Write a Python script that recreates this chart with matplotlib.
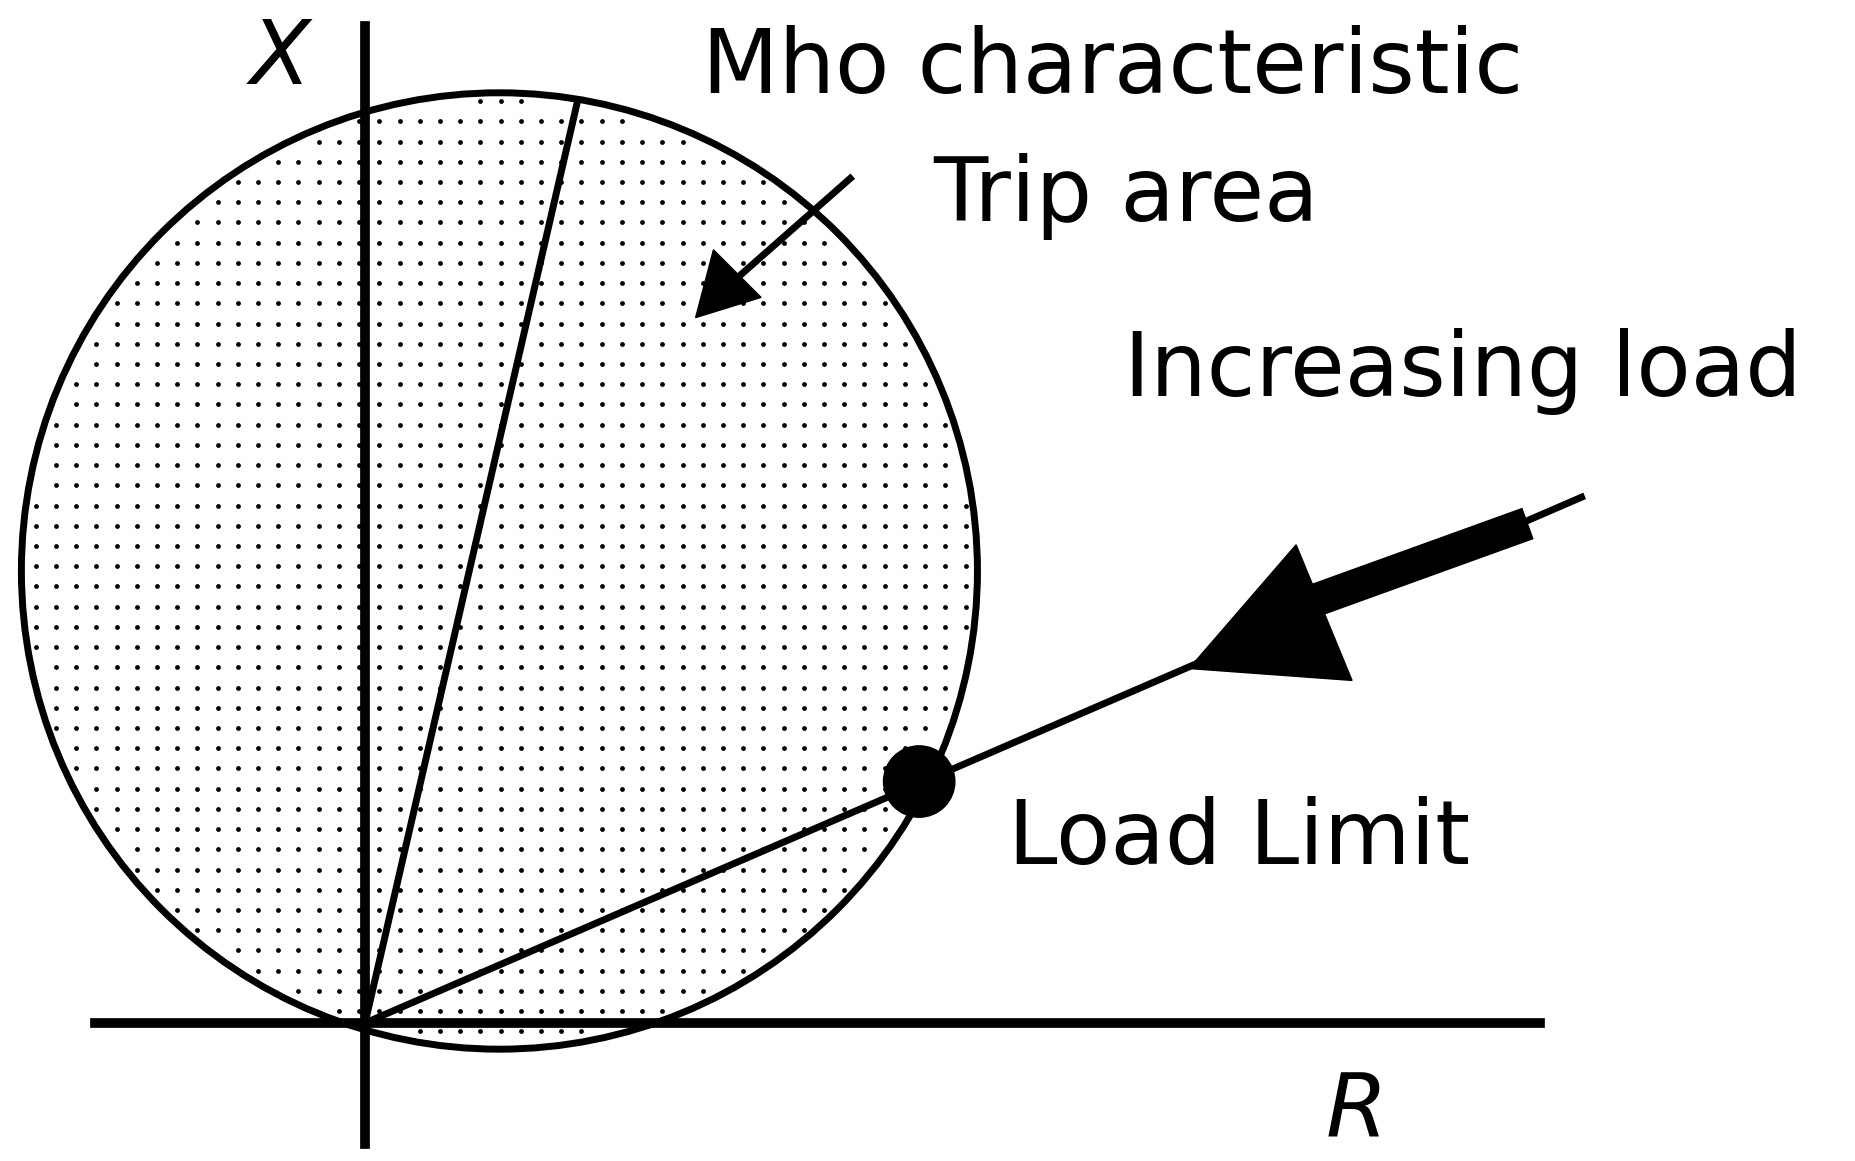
import numpy as np
import matplotlib.pyplot as plt
from matplotlib.patches import Circle, Polygon

# geometry in image units (x right, y down)
origin = (307, 860)
circle_center = (420, 480)
circle_radius = 402
reach_point = (485, 88)
load_end = (1330, 418)
limit_point = (773, 657)
dot_spacing = 17

fig = plt.figure(figsize=(18.55, 11.61), dpi=100)
ax = fig.add_axes([0, 0, 1, 1])
ax.set_xlim(0, 1560)
ax.set_ylim(976, 0)
ax.set_aspect('auto')
ax.axis('off')

# stippled trip area
gx, gy = np.meshgrid(np.arange(30, 820, dot_spacing), np.arange(85, 885, dot_spacing))
inside = (gx - circle_center[0])**2 + (gy - circle_center[1])**2 < (circle_radius - 6)**2
ax.scatter(gx[inside], gy[inside], s=12, color='black', lw=0)

ax.add_patch(Circle(circle_center, circle_radius, fill=False, lw=5, color='black'))

# axes
ax.plot([origin[0], origin[0]], [22, 962], color='black', lw=7)
ax.plot([80, 1295], [origin[1], origin[1]], color='black', lw=7)

# reach line and load line
ax.plot([origin[0], reach_point[0]], [origin[1], reach_point[1]], color='black', lw=5)
ax.plot([origin[0], load_end[0]], [origin[1], load_end[1]], color='black', lw=5)
ax.add_patch(Circle(limit_point, 30, color='black'))

# big "increasing load" arrow
ax.add_patch(Polygon([(1000, 562), (1090, 458), (1137, 572)], color='black'))
ax.plot([1105, 1285], [505, 440], color='black', lw=24, solid_capstyle='butt')

# trip area arrow
ax.plot([715, 615], [150, 238], color='black', lw=5)
ax.add_patch(Polygon([(585, 267), (600, 210), (640, 250)], color='black'))

fs = 64
font = 'DejaVu Sans'
ax.text(210, 50, 'X', fontsize=fs, style='italic', family=font, ha='left', va='center')
ax.text(590, 58, 'Mho characteristic', fontsize=fs, family=font, ha='left', va='center')
ax.text(785, 165, 'Trip area', fontsize=fs, family=font, ha='left', va='center')
ax.text(945, 312, 'Increasing load', fontsize=fs, family=font, ha='left', va='center')
ax.text(848, 706, 'Load Limit', fontsize=fs, family=font, ha='left', va='center')
ax.text(1115, 935, 'R', fontsize=fs, style='italic', family=font, ha='left', va='center')

plt.savefig('out.png', dpi=100)
